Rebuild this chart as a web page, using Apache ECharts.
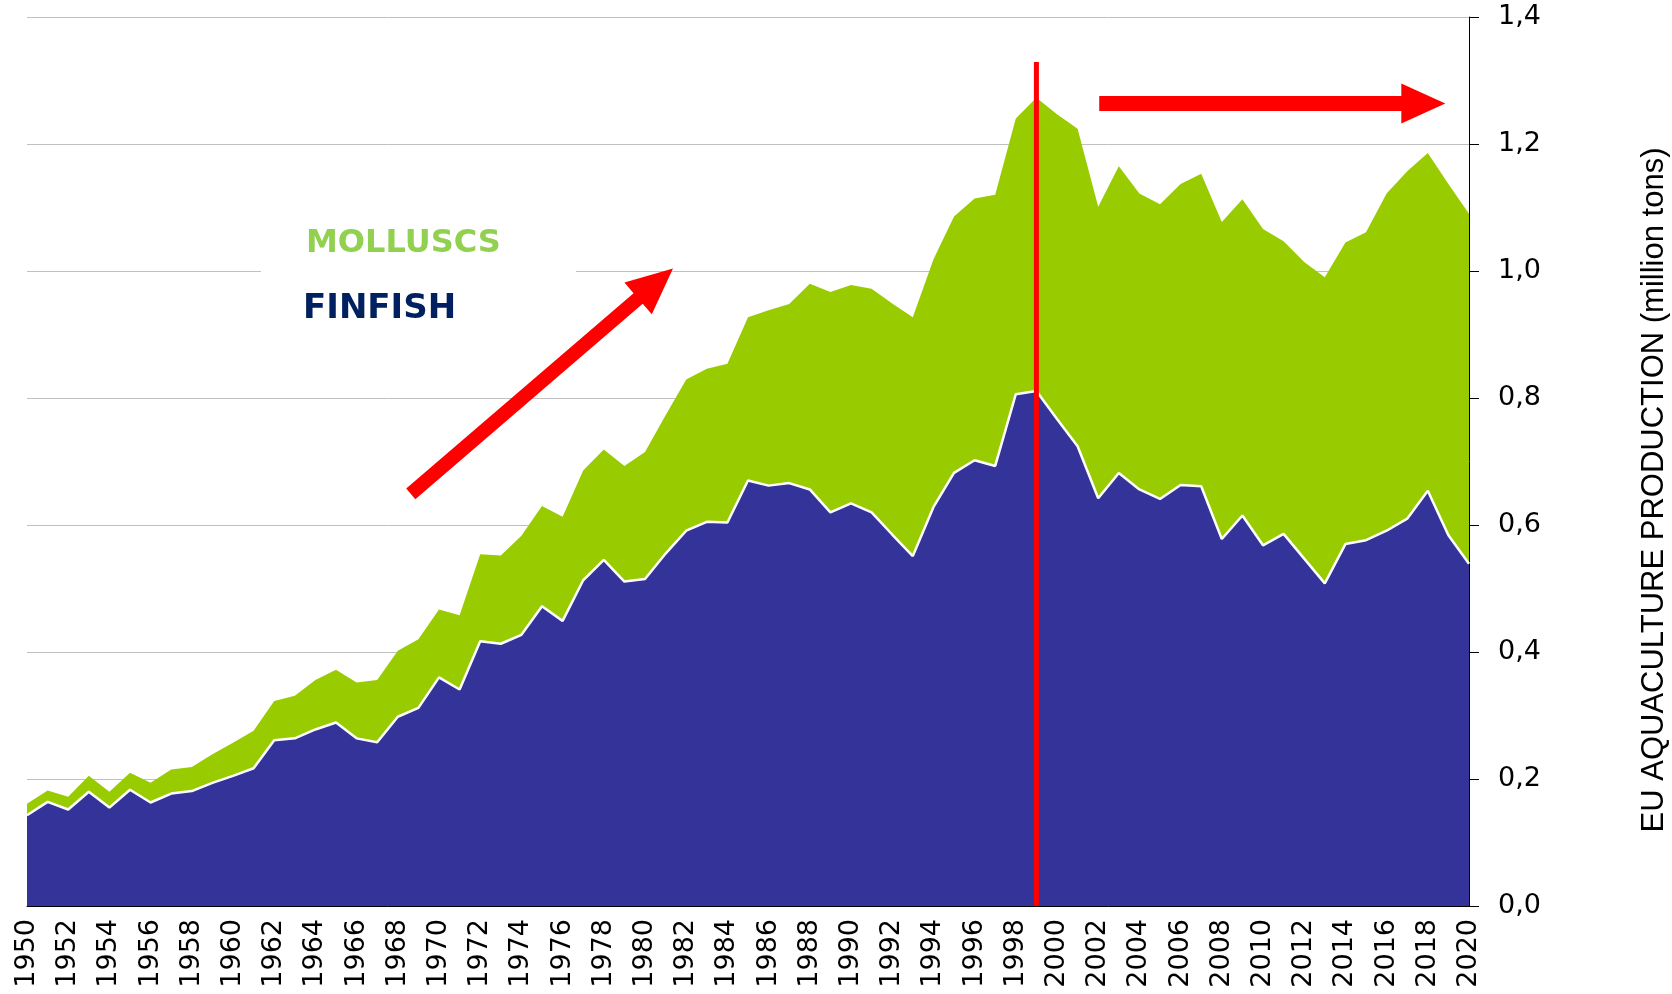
<!DOCTYPE html>
<html lang="en">
<head>
<meta charset="utf-8">
<title>EU aquaculture production</title>
<script src="https://cdn.jsdelivr.net/npm/echarts@6.0.0/dist/echarts.min.js"></script>
<style>
    html, body { margin: 0; padding: 0; background: #fff; }
    #main { width: 1672px; height: 994px; }
</style>
</head>
<body>
<div id="main"></div>
<script>
    // years on the x axis
    var years = [];
    for (var y = 1950; y <= 2020; y++) years.push(y);

    // finfish production (million tons)
    var finfish = [
        0.143, 0.164, 0.152, 0.180, 0.155, 0.183, 0.163, 0.177, 0.181, 0.194,
        0.205, 0.217, 0.261, 0.264, 0.278, 0.289, 0.264, 0.258, 0.298, 0.312,
        0.360, 0.341, 0.417, 0.413, 0.427, 0.472, 0.449, 0.513, 0.545, 0.511,
        0.515, 0.555, 0.591, 0.605, 0.604, 0.670, 0.662, 0.666, 0.656, 0.620,
        0.634, 0.620, 0.585, 0.551, 0.628, 0.682, 0.702, 0.693, 0.806, 0.811,
        0.767, 0.724, 0.642, 0.682, 0.656, 0.641, 0.663, 0.661, 0.578, 0.615,
        0.568, 0.586, 0.547, 0.508, 0.570, 0.576, 0.591, 0.610, 0.654, 0.584,
        0.539
    ];

    // finfish + molluscs (top of the green band)
    var totalTop = [
        0.161, 0.182, 0.172, 0.205, 0.180, 0.210, 0.194, 0.215, 0.219, 0.239,
        0.257, 0.276, 0.323, 0.331, 0.356, 0.372, 0.352, 0.356, 0.402, 0.420,
        0.467, 0.458, 0.554, 0.552, 0.583, 0.630, 0.613, 0.686, 0.719, 0.693,
        0.715, 0.773, 0.829, 0.846, 0.854, 0.927, 0.938, 0.948, 0.980, 0.967,
        0.978, 0.972, 0.949, 0.927, 1.018, 1.086, 1.114, 1.120, 1.240, 1.273,
        1.247, 1.224, 1.101, 1.165, 1.122, 1.105, 1.137, 1.153, 1.077, 1.113,
        1.066, 1.047, 1.014, 0.990, 1.045, 1.061, 1.122, 1.157, 1.186, 1.137,
        1.090
    ];

    var yTickLabels = ['0,0', '0,2', '0,4', '0,6', '0,8', '1,0', '1,2', '1,4'];
    var yTitle = 'EU AQUACULTURE PRODUCTION (million tons)';

    // annotations, in data coordinates [year, value]
    var splitYear = [[1999, 0], [1999, 1.329]];
    var riseArrow = [[1968.63, 0.649], [1981.36, 1.004]];
    var flatArrow = [[2002.05, 1.2636], [2018.85, 1.2636]];

    function pairs(vals) {
        return years.map(function (yr, i) { return [yr, vals[i]]; });
    }

    var myChart = echarts.init(document.getElementById('main'));

    myChart.setOption({
        animation: false,
        backgroundColor: '#fff',
        grid: {left: 27, right: 203, top: 17, bottom: 88, containLabel: false, outerBoundsMode: 'none'},
        xAxis: {
            type: 'value',
            min: 1950, max: 2020, interval: 2,
            axisLine: {lineStyle: {color: '#000', width: 1}},
            axisTick: {show: false},
            splitLine: {show: false},
            axisLabel: {
                rotate: 90, margin: 13, fontSize: 27, color: '#000',
                fontFamily: 'DejaVu Sans',
                formatter: function (v) { return String(v); }
            }
        },
        yAxis: {
            type: 'value',
            position: 'right',
            min: 0, max: 1.4, interval: 0.2,
            axisLine: {show: true, lineStyle: {color: '#000', width: 1}},
            axisTick: {show: true, length: 10, lineStyle: {color: '#000'}},
            splitLine: {lineStyle: {color: '#c0c0c0', width: 1}},
            axisLabel: {
                margin: 29, fontSize: 27, color: '#000', fontFamily: 'DejaVu Sans',
                formatter: function (v) { return yTickLabels[Math.round(v / 0.2)]; }
            }
        },
        series: [{
            name: 'MOLLUSCS',
            type: 'line',
            data: pairs(totalTop),
            symbol: 'none',
            lineStyle: {width: 0, color: '#99cc00'},
            areaStyle: {color: '#99cc00', opacity: 1},
            z: 2
        }, {
            name: 'FINFISH',
            type: 'line',
            data: pairs(finfish),
            symbol: 'none',
            lineStyle: {width: 2.5, color: '#ffffff'},
            areaStyle: {color: '#333399', opacity: 1},
            z: 3
        }]
    });

    function px(p) {
        return myChart.convertToPixel({gridIndex: 0}, p);
    }

    function arrowShape(a, b, shaft, headLen, headHalf) {
        var p0 = px(a), p1 = px(b);
        var dx = p1[0] - p0[0], dy = p1[1] - p0[1];
        var len = Math.sqrt(dx * dx + dy * dy);
        var ux = dx / len, uy = dy / len, nx = -uy, ny = ux;
        var bx = p1[0] - ux * headLen, by = p1[1] - uy * headLen;
        var h = shaft / 2;
        return [
            [p0[0] + nx * h, p0[1] + ny * h],
            [bx + nx * h, by + ny * h],
            [bx + nx * headHalf, by + ny * headHalf],
            p1,
            [bx - nx * headHalf, by - ny * headHalf],
            [bx - nx * h, by - ny * h],
            [p0[0] - nx * h, p0[1] - ny * h]
        ];
    }

    var v0 = px(splitYear[0]), v1 = px(splitYear[1]);

    myChart.setOption({
        graphic: [
            // white patch behind the labels
            {type: 'rect', z: 50, shape: {x: 261, y: 200, width: 315, height: 140}, style: {fill: '#fff'}},
            {type: 'text', z: 60, x: 306, y: 244, style: {
                text: 'MOLLUSCS', fill: '#92d050', font: 'bold 32px "DejaVu Sans"',
                textAlign: 'left', textVerticalAlign: 'middle'}},
            {type: 'text', z: 60, x: 303, y: 309, style: {
                text: 'FINFISH', fill: '#002060', font: 'bold 34px "DejaVu Sans"',
                textAlign: 'left', textVerticalAlign: 'middle'}},
            {type: 'line', z: 100, shape: {x1: v0[0], y1: v0[1], x2: v1[0], y2: v1[1]},
                style: {stroke: '#ff0000', lineWidth: 5}},
            {type: 'polygon', z: 100, shape: {points: arrowShape(riseArrow[0], riseArrow[1], 14, 46, 21)},
                style: {fill: '#ff0000'}},
            {type: 'polygon', z: 100, shape: {points: arrowShape(flatArrow[0], flatArrow[1], 15, 44, 20)},
                style: {fill: '#ff0000'}},
            {type: 'text', z: 60, x: 1654, y: 490, rotation: Math.PI / 2, style: {
                text: yTitle, fill: '#000', font: '31px "Liberation Sans"',
                textAlign: 'center', textVerticalAlign: 'middle'}}
        ]
    });
</script>
</body>
</html>
